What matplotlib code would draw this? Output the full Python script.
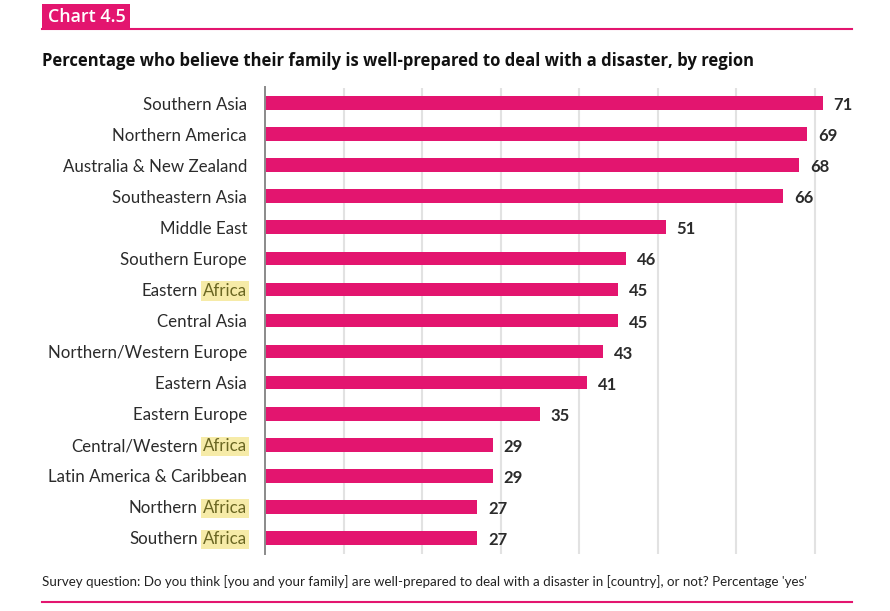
import matplotlib
matplotlib.use("Agg")
import matplotlib.pyplot as plt
import matplotlib.transforms as mtransforms
from matplotlib.patches import Rectangle
from matplotlib.lines import Line2D

regions = ["Southern Asia", "Northern America", "Australia & New Zealand",
           "Southeastern Asia", "Middle East", "Southern Europe", "Eastern Africa",
           "Central Asia", "Northern/Western Europe", "Eastern Asia", "Eastern Europe",
           "Central/Western Africa", "Latin America & Caribbean", "Northern Africa",
           "Southern Africa"]
values = [71, 69, 68, 66, 51, 46, 45, 45, 43, 41, 35, 29, 29, 27, 27]
xticks = [10, 20, 30, 40, 50, 60, 70]

title = "Percentage who believe their family is well-prepared to deal with a disaster, by region"
chart_tag = "Chart 4.5"
footnote = ("Survey question: Do you think [you and your family] are well-prepared to deal "
            "with a disaster in [country], or not? Percentage 'yes'")

MAGENTA = "#E3156F"
TEXT = "#2b2b2b"
HL_BG = "#F6EBA8"
HL_TX = "#6a6622"

W, H = 890, 611
fig = plt.figure(figsize=(W / 100, H / 100), dpi=100)
fig.patch.set_facecolor("white")

def fx(px):
    return px / W

def fy(py):
    return 1 - py / H

ax = fig.add_axes([fx(265), fy(553.5), fx(854) - fx(265), fy(87.5) - fy(553.5)])
ypos = list(range(len(regions)))
ax.barh(ypos, values, height=0.44, color=MAGENTA, zorder=3)
ax.set_xlim(0, 75)
ax.set_ylim(len(regions) - 0.5, -0.5)
ax.set_xticks(xticks)
ax.set_yticks([])
ax.tick_params(axis="x", length=0, labelbottom=False)
ax.grid(axis="x", color="#e2e2e2", linewidth=1.5, zorder=0)
for s in ["top", "right", "bottom"]:
    ax.spines[s].set_visible(False)
ax.spines["left"].set_color("#8a8a8a")
ax.spines["left"].set_linewidth(1.4)
ax.spines["left"].set_zorder(4)

label_font = "Lato"
label_size = 12.2

for y, v in zip(ypos, values):
    ax.annotate(f"{v}", xy=(v, y), xytext=(11, -2), textcoords="offset pixels",
                ha="left", va="center", fontsize=12, fontweight="bold",
                color=TEXT, fontfamily=label_font)

fig.canvas.draw()
renderer = fig.canvas.get_renderer()
lab_tr = mtransforms.offset_copy(ax.get_yaxis_transform(), fig=fig, x=-18, y=-1.5, units="dots")
disp_y_tr = mtransforms.offset_copy(
    mtransforms.blended_transform_factory(mtransforms.IdentityTransform(), ax.transData),
    fig=fig, x=0, y=-1.5, units="dots")

for y, name in zip(ypos, regions):
    if name.endswith("Africa"):
        prefix = name[:-len("Africa")].rstrip()
        t = ax.text(0, y, "Africa", transform=lab_tr, ha="right", va="center",
                    fontsize=label_size, color=HL_TX, fontfamily=label_font,
                    bbox=dict(boxstyle="square,pad=0.1", facecolor=HL_BG, edgecolor="none"))
        ext = t.get_window_extent(renderer)
        ax.text(ext.x0 - 5, y, prefix, transform=disp_y_tr, ha="right", va="center",
                fontsize=label_size, color=TEXT, fontfamily=label_font)
    else:
        ax.text(0, y, name, transform=lab_tr, ha="right", va="center",
                fontsize=label_size, color=TEXT, fontfamily=label_font)

# header tag
fig.patches.append(Rectangle((fx(42), fy(29)), fx(130) - fx(42), fy(4) - fy(29),
                             transform=fig.transFigure, facecolor=MAGENTA, edgecolor="none"))
fig.text(fx(87), fy(17), chart_tag, ha="center", va="center", color="white",
         fontsize=12.9, fontweight="semibold", fontfamily="Open Sans")
fig.lines.append(Line2D([fx(42), fx(852)], [fy(28.5), fy(28.5)], transform=fig.transFigure,
                        color=MAGENTA, linewidth=1.5))

fig.text(fx(42), fy(66.5), title, ha="left", va="baseline", color="#111111",
         fontsize=12, fontweight="bold", fontfamily="Open Sans")

fig.text(fx(42), fy(586), footnote, ha="left", va="baseline", color="#222222",
         fontsize=9.65, fontfamily="Lato")
fig.lines.append(Line2D([fx(42), fx(852)], [fy(602), fy(602)], transform=fig.transFigure,
                        color=MAGENTA, linewidth=1.5))

fig.savefig("out.png", dpi=100, facecolor="white")
